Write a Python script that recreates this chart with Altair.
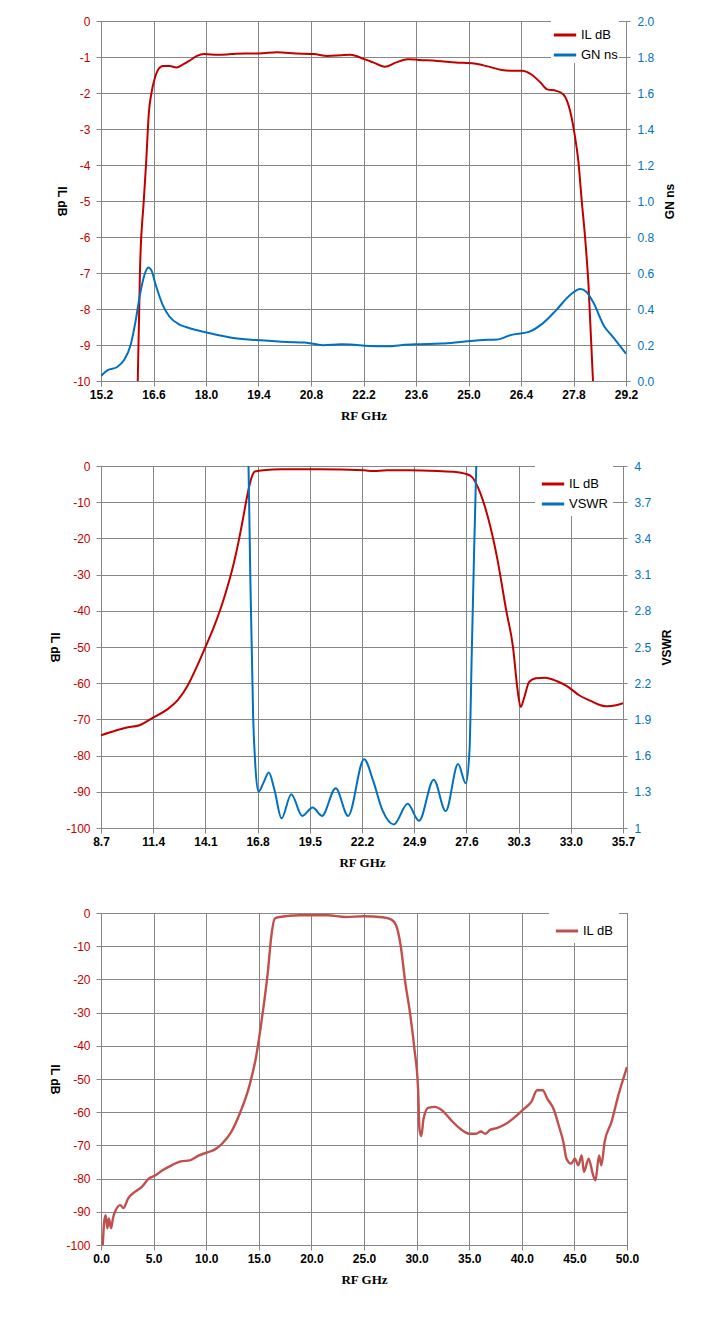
import altair as alt
import pandas as pd

RED = "#C00000"
BLUE = "#0070C0"
RED3 = "#C0504D"
GRID = "#868686"
SANS = "'Liberation Sans', Arial, sans-serif"
NARROW = "'Liberation Sans Narrow', 'Liberation Sans', Arial, sans-serif"
SERIF = "'Liberation Serif', serif"

# --- chart 1: IL and group delay, 15.2 - 29.2 GHz ---
x1_ticks = [15.2, 16.6, 18.0, 19.4, 20.8, 22.2, 23.6, 25.0, 26.4, 27.8, 29.2]
il1_ticks = [0, -1, -2, -3, -4, -5, -6, -7, -8, -9, -10]
gn_ticks = [0.0, 0.2, 0.4, 0.6, 0.8, 1.0, 1.2, 1.4, 1.6, 1.8, 2.0]

il1_ghz = [16.18, 16.24, 16.34, 16.40, 16.48, 16.54, 16.64, 16.73, 16.85, 17.03,
           17.21, 17.40, 17.58, 17.76, 17.95, 18.31, 18.68, 19.04, 19.41, 19.90,
           20.39, 20.88, 21.24, 21.61, 21.85, 22.22, 22.46, 22.77, 23.07, 23.38,
           23.68, 24.17, 24.66, 25.15, 25.51, 25.88, 26.12, 26.43, 26.67, 26.92,
           27.10, 27.34, 27.53, 27.71, 27.83, 27.93, 28.02, 28.10, 28.20, 28.32]
il1_db = [-10.0, -6.9, -5.0, -4.0, -2.5, -2.03, -1.57, -1.34, -1.25, -1.25,
          -1.29, -1.20, -1.09, -0.97, -0.92, -0.94, -0.92, -0.90, -0.90, -0.87,
          -0.90, -0.92, -0.97, -0.95, -0.94, -1.06, -1.15, -1.27, -1.15, -1.06,
          -1.08, -1.11, -1.15, -1.18, -1.26, -1.36, -1.38, -1.38, -1.48, -1.71,
          -1.90, -1.94, -2.04, -2.5, -3.15, -3.9, -5.0, -5.9, -7.33, -10.0]

gn_ghz = [15.20, 15.38, 15.63, 15.81, 15.99, 16.12, 16.24, 16.36, 16.46, 16.54,
          16.66, 16.85, 17.03, 17.28, 17.46, 17.95, 18.31, 18.68, 19.41, 20.14,
          20.63, 21.12, 21.61, 21.85, 22.34, 22.83, 23.19, 23.56, 24.29, 24.78,
          25.27, 25.76, 26.12, 26.61, 26.98, 27.34, 27.71, 27.98, 28.14, 28.32,
          28.63, 28.81, 28.99, 29.20]
gn_ns = [0.028, 0.06, 0.078, 0.115, 0.20, 0.33, 0.48, 0.59, 0.63, 0.617,
         0.533, 0.42, 0.357, 0.314, 0.30, 0.273, 0.255, 0.24, 0.227, 0.217,
         0.214, 0.199, 0.204, 0.203, 0.195, 0.193, 0.199, 0.204, 0.208, 0.217,
         0.227, 0.23, 0.255, 0.273, 0.32, 0.394, 0.478, 0.511, 0.496, 0.44,
         0.30, 0.255, 0.208, 0.152]

# --- chart 2: IL and VSWR, 8.7 - 35.7 GHz ---
x2_ticks = [8.7, 11.4, 14.1, 16.8, 19.5, 22.2, 24.9, 27.6, 30.3, 33.0, 35.7]
il_ticks = [0, -10, -20, -30, -40, -50, -60, -70, -80, -90, -100]
vswr_ticks = [1, 1.3, 1.6, 1.9, 2.2, 2.5, 2.8, 3.1, 3.4, 3.7, 4]

il2_ghz = [8.70, 9.51, 9.98, 10.69, 11.40, 12.11, 12.70, 13.20, 13.65, 14.10,
           14.50, 14.85, 15.15, 15.42, 15.65, 15.85, 16.03, 16.20, 16.35, 16.50,
           16.66, 17.09, 18.04, 19.94, 22.31, 22.78, 23.49, 24.68, 26.10, 27.05,
           27.52, 27.88, 28.23, 28.71, 29.18, 29.66, 30.01, 30.25, 30.41, 30.60,
           30.84, 31.20, 31.67, 32.26, 32.86, 33.45, 34.04, 34.40, 34.87, 35.34,
           35.70]
il2_db = [-74.4, -73.0, -72.3, -71.6, -69.5, -67.3, -64.5, -60.5, -55.5, -50.0,
          -45.0, -40.0, -35.0, -30.0, -25.0, -20.0, -15.0, -10.0, -6.0, -3.0,
          -1.5, -1.2, -0.9, -0.9, -1.2, -1.4, -1.2, -1.2, -1.4, -1.65,
          -2.1, -3.0, -6.3, -14.1, -25.1, -39.9, -50.0, -62.0, -66.6, -63.8,
          -59.7, -58.6, -58.5, -59.4, -61.0, -63.4, -64.9, -65.8, -66.4, -66.1,
          -65.5]

vswr_ghz = [16.33, 16.43, 16.57, 16.69, 16.85, 17.09, 17.38, 17.68, 18.04, 18.54,
            19.11, 19.65, 20.13, 20.84, 21.48, 22.31, 22.78, 23.25, 23.85, 24.56,
            25.15, 25.91, 26.53, 27.17, 27.57, 27.76, 27.88, 28.00, 28.11]
vswr = [4.0, 3.02, 1.92, 1.50, 1.30, 1.37, 1.46, 1.31, 1.08, 1.28,
        1.10, 1.17, 1.10, 1.33, 1.10, 1.57, 1.39, 1.15, 1.03, 1.20,
        1.06, 1.40, 1.14, 1.53, 1.37, 1.64, 2.47, 3.30, 4.0]

# --- chart 3: wideband IL, 0 - 50 GHz ---
x3_ticks = [0, 5, 10, 15, 20, 25, 30, 35, 40, 45, 50]

il3_ghz = [0.17, 0.30, 0.44, 0.61, 0.74, 0.96, 1.13, 1.39, 1.83, 2.13,
           2.57, 3.22, 3.88, 4.53, 5.18, 5.84, 6.71, 7.58, 8.45, 9.32,
           10.19, 10.84, 11.50, 12.37, 13.24, 14.11, 14.76, 15.33, 15.85, 16.20,
           16.51, 16.94, 18.90, 21.52, 23.26, 25.00, 26.74, 27.61, 28.05, 28.48,
           28.92, 29.36, 29.79, 30.14, 30.27, 30.44, 30.66, 31.10, 31.75, 32.40,
           33.28, 34.15, 35.02, 35.67, 36.10, 36.54, 36.98, 37.63, 38.50, 39.37,
           40.24, 40.90, 41.46, 41.99, 42.42, 43.07, 43.51, 43.95, 44.25, 44.69,
           45.04, 45.38, 45.69, 45.91, 46.35, 46.78, 47.00, 47.35, 47.56, 47.87,
           48.52, 49.17, 50.00]
il3_db = [-100, -93, -91, -95, -92, -95, -92, -89.6, -88, -88.9,
          -86, -84, -82.5, -80, -79, -77.5, -76, -74.8, -74.5, -73,
          -72, -71.2, -69.5, -66, -60, -52, -43, -31, -18, -6.7,
          -1.7, -1.2, -0.7, -0.7, -1.2, -1.0, -1.3, -2.0, -3.7, -9.7,
          -20.8, -29.8, -40.9, -52.9, -65, -67.2, -62, -58.7, -58.4, -59.4,
          -62.4, -65, -66.5, -66.5, -65.8, -66.5, -65.3, -64.8, -63.5, -61.4,
          -58.9, -56.9, -53.4, -53.4, -55.9, -59.4, -64, -69, -74, -75.5,
          -74, -76, -73, -78, -74, -79, -80.5, -73, -76, -69,
          -63, -55, -46.4]


def x_axis(values):
    return alt.Axis(values=values, format=".1f", title="RF GHz",
                    labelFont=SANS, labelFontWeight="bold", labelFontSize=12,
                    labelColor="black", labelFlush=False, labelPadding=3,
                    titleFont=SERIF, titleFontSize=13, titleFontWeight="bold",
                    titleColor="black", titlePadding=9,
                    grid=True, gridColor=GRID, domainColor=GRID, tickColor=GRID,
                    tickSize=5)


def il_axis(values):
    return alt.Axis(values=values, labelExpr="'' + datum.value", title="IL dB",
                    labelFont=SANS, labelFontSize=12, labelColor=RED,
                    labelPadding=6, titleAngle=90, titleBaseline="top",
                    titleFont=NARROW, titleFontSize=12, titleFontWeight="bold",
                    titleColor="black", titlePadding=6,
                    grid=True, gridColor=GRID, domainColor=GRID, tickColor=GRID,
                    tickSize=5)


def right_axis(values, title, fmt):
    return alt.Axis(orient="right", values=values, format=fmt, title=title,
                    labelFont=SANS, labelFontSize=12, labelColor=BLUE,
                    labelPadding=7, titleAngle=270, titleBaseline="top",
                    titleFont=NARROW, titleFontSize=12, titleFontWeight="bold",
                    titleColor="black", titlePadding=11,
                    grid=False, domainColor=GRID, tickColor=GRID, tickSize=4)


def legend(x, pad, row_pad):
    return alt.Legend(orient="none", legendX=x, legendY=0, title=None,
                      fillColor="white", padding=pad, symbolType="stroke",
                      symbolSize=500, symbolStrokeWidth=3, labelFont=NARROW,
                      labelFontSize=13, labelColor="black", labelOffset=3,
                      rowPadding=row_pad)


def frame(ghz, vals, name):
    return pd.DataFrame({"ghz": ghz, "val": vals, "series": name})


def line(df, x_dom, x_ticks, y_dom, axis, names, colors, leg, width=2):
    color = alt.Color("series:N", scale=alt.Scale(domain=names, range=colors),
                      legend=leg)
    return alt.Chart(df).mark_line(clip=True, strokeWidth=width,
                                   interpolate="monotone").encode(
        x=alt.X("ghz:Q", scale=alt.Scale(domain=x_dom, nice=False, zero=False),
                axis=x_axis(x_ticks)),
        y=alt.Y("val:Q", scale=alt.Scale(domain=y_dom, nice=False, zero=False),
                axis=axis),
        color=color,
    )


names1 = ["IL dB", "GN ns"]
leg1 = legend(450, 1, -4)
c1 = alt.layer(
    line(frame(il1_ghz, il1_db, "IL dB"), [15.2, 29.2], x1_ticks, [-10, 0],
         il_axis(il1_ticks), names1, [RED, BLUE], leg1),
    line(frame(gn_ghz, gn_ns, "GN ns"), [15.2, 29.2], x1_ticks, [0, 2],
         right_axis(gn_ticks, "GN ns", ".1f"), names1, [RED, BLUE], leg1),
).resolve_scale(y="independent").properties(width=525, height=360)

names2 = ["IL dB", "VSWR"]
leg2 = legend(434, 5, -1.4)
c2 = alt.layer(
    line(frame(il2_ghz, il2_db, "IL dB"), [8.7, 35.7], x2_ticks, [-100, 0],
         il_axis(il_ticks), names2, [RED, BLUE], leg2),
    line(frame(vswr_ghz, vswr, "VSWR"), [8.7, 35.7], x2_ticks, [1, 4],
         right_axis(vswr_ticks, "VSWR", ".2~f"), names2, [RED, BLUE], leg2),
).resolve_scale(y="independent").properties(width=522, height=362)

c3 = line(frame(il3_ghz, il3_db, "IL dB"), [0, 50], x3_ticks, [-100, 0],
          il_axis(il_ticks), ["IL dB"], [RED3], legend(448, 5, 0),
          2.4).properties(width=526, height=332)

chart = alt.vconcat(c1, c2, c3, spacing=36).resolve_scale(
    color="independent"
).properties(
    padding={"left": 40, "top": 6, "right": 5, "bottom": 5}
).configure_view(stroke=GRID)

chart.save("out.html", embed_options={"renderer": "svg", "actions": False})
